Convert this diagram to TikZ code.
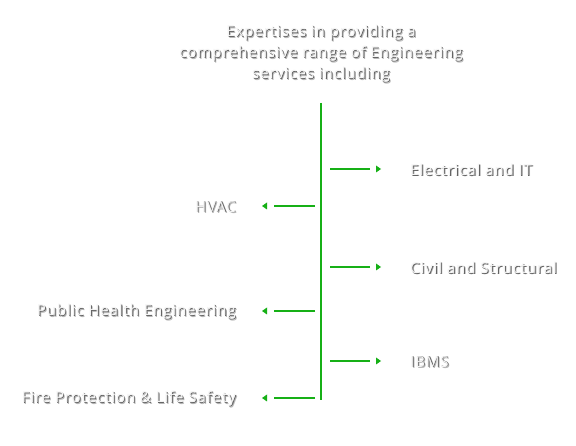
\documentclass[tikz,border=0pt]{standalone}
\usepackage{fontspec}
\setmainfont{Open Sans}[LetterSpace=6]
\definecolor{grn}{RGB}{22,176,22}
\definecolor{txtc}{RGB}{244,244,244}
\definecolor{shd}{RGB}{100,100,100}
\definecolor{shdb}{RGB}{185,185,185}
\newcommand\shtext[1]{\makebox[0pt][l]{\hspace{1.6pt}\raisebox{-1.6pt}{\textcolor{shdb}{#1}}}\makebox[0pt][l]{\hspace{0.9pt}\raisebox{-0.9pt}{\textcolor{shd}{#1}}}\textcolor{txtc}{#1}}
\begin{document}
\begin{tikzpicture}[x=1pt,y=-1pt,
  lbl/.style={font=\fontsize{15}{21}\selectfont, inner sep=0pt},
  branch/.style={draw=grn, line width=2pt},
  trunk/.style={draw=grn, line width=2pt}]
\useasboundingbox (0,0) rectangle (576,446);
\fill[white] (0,0) rectangle (576,446);
% title
\node[lbl, align=center] (title) at (321,54.5) {\shtext{Expertises in providing a}\\ \shtext{comprehensive range of Engineering}\\ \shtext{services including}};
% trunk
\coordinate (top) at (321,103);
\coordinate (bot) at (321,400);
\draw[trunk] (top) -- (bot);
% right branches
\foreach \y/\n/\t in {169/e/Electrical and IT, 267/c/Civil and Structural, 361/i/IBMS}{
  \coordinate (\n s) at (330,\y);
  \coordinate (\n e) at (370,\y);
  \draw[branch] (\n s) -- (\n e);
  \fill[grn] (376,\y-3.5) -- (381,\y) -- (376,\y+3.5) -- cycle;
  \node[lbl, anchor=west] (\n) at (410,\y+1.5) {\shtext{\t}};
}
% left branches
\foreach \y/\n/\t in {206/h/HVAC, 311/p/Public Health Engineering, 398/f/Fire Protection \& Life Safety}{
  \coordinate (\n s) at (315,\y);
  \coordinate (\n e) at (274,\y);
  \draw[branch] (\n s) -- (\n e);
  \fill[grn] (267,\y-3.5) -- (262,\y) -- (267,\y+3.5) -- cycle;
  \node[lbl, anchor=east] (\n) at (236,\y+1.5) {\shtext{\t}};
}
\end{tikzpicture}
\end{document}
